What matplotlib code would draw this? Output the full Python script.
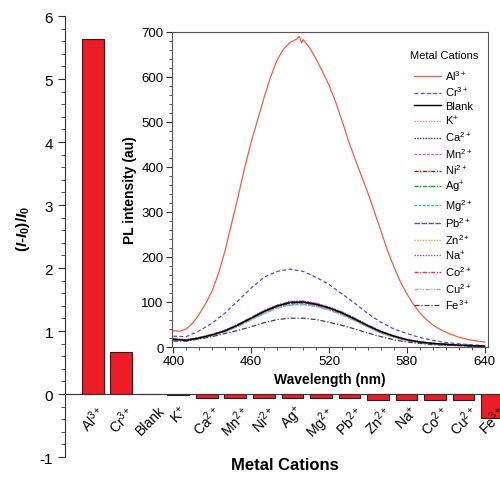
import matplotlib
matplotlib.use("Agg")
import matplotlib.pyplot as plt
from matplotlib.ticker import MultipleLocator

plt.rcParams["font.family"] = ["Liberation Sans", "DejaVu Sans"]
plt.rcParams["mathtext.fontset"] = "custom"
plt.rcParams["mathtext.rm"] = "Liberation Sans"
plt.rcParams["mathtext.it"] = "Liberation Sans:italic:bold"
plt.rcParams["mathtext.bf"] = "Liberation Sans:bold"
plt.rcParams["axes.unicode_minus"] = False

# bar chart data: relative change of PL intensity
cations = ["Al$^{3+}$", "Cr$^{3+}$", "Blank", "K$^{+}$", "Ca$^{2+}$", "Mn$^{2+}$", "Ni$^{2+}$",
           "Ag$^{+}$", "Mg$^{2+}$", "Pb$^{2+}$", "Zn$^{2+}$", "Na$^{+}$", "Co$^{2+}$", "Cu$^{2+}$", "Fe$^{3+}$"]
ratio = [5.63, 0.66, 0.0, -0.02, -0.06, -0.06, -0.06, -0.06, -0.06, -0.06, -0.09, -0.09, -0.09, -0.10, -0.38]

# inset PL spectra
wl_al = [400, 405, 410, 415, 420, 425, 430, 435, 440, 445, 450, 455, 460, 465, 470, 475, 480, 485, 490,
         493, 495, 497, 499, 500, 502, 505, 510, 515, 520, 525, 530, 535, 540, 545, 550, 555, 560, 565,
         570, 575, 580, 585, 590, 595, 600, 605, 610, 615, 620, 625, 630, 635, 640]
al = [36, 35, 40, 53, 73, 97, 125, 165, 215, 275, 335, 398, 455, 505, 555, 600, 638, 662, 677,
      681, 684, 690, 676, 683, 676, 665, 640, 612, 582, 545, 503, 458, 418, 380, 342, 300, 258, 215,
      178, 145, 118, 95, 76, 61, 49, 40, 33, 27, 22, 18, 15, 13, 11]

wl = [400, 410, 420, 430, 440, 450, 460, 470, 480, 490, 500, 510, 520, 530, 540, 550, 560, 570, 580,
      590, 600, 610, 620, 630, 640]
cr = [24, 23, 36, 53, 76, 103, 131, 155, 168, 173, 168, 155, 139, 118, 97, 74, 55, 40, 30, 21, 15, 10, 7, 5, 3]
blank = [17, 15, 20, 27, 36, 49, 64, 79, 91, 99, 100, 95, 87, 76, 62, 47, 34, 24, 16, 11, 8, 6, 4, 3, 2]
k = [18, 16, 21, 28, 38, 51, 66, 81, 93, 101, 102, 97, 88, 77, 63, 48, 35, 25, 17, 12, 8, 6, 4, 3, 2]
ca = [16, 15, 19, 26, 35, 48, 63, 78, 90, 98, 99, 94, 86, 75, 61, 46, 33, 23, 15, 10, 7, 5, 4, 3, 2]
mn = [17, 16, 20, 27, 37, 50, 65, 80, 92, 100, 101, 96, 87, 76, 62, 47, 34, 24, 16, 11, 8, 6, 4, 3, 2]
ni = [18, 16, 21, 28, 37, 50, 65, 80, 92, 100, 101, 96, 88, 77, 63, 48, 35, 24, 16, 11, 8, 6, 4, 3, 2]
ag = [17, 15, 20, 27, 36, 48, 63, 78, 90, 97, 98, 93, 85, 74, 60, 46, 33, 23, 15, 10, 7, 5, 4, 3, 2]
mg = [16, 14, 19, 25, 34, 46, 61, 75, 87, 94, 95, 91, 83, 72, 59, 45, 32, 22, 15, 10, 7, 5, 4, 3, 2]
pb = [17, 15, 20, 27, 36, 49, 64, 79, 91, 98, 99, 94, 86, 75, 61, 47, 34, 24, 16, 11, 8, 6, 4, 3, 2]
zn = [18, 16, 21, 28, 37, 50, 65, 80, 92, 99, 100, 95, 87, 76, 62, 47, 34, 24, 16, 11, 8, 6, 4, 3, 2]
na = [17, 16, 20, 27, 37, 50, 65, 81, 93, 101, 102, 97, 89, 78, 64, 49, 35, 25, 17, 12, 8, 6, 4, 3, 2]
co = [17, 15, 20, 27, 36, 49, 64, 79, 91, 98, 99, 94, 86, 75, 61, 46, 33, 23, 15, 10, 7, 5, 4, 3, 2]
cu = [16, 14, 19, 25, 34, 46, 60, 74, 86, 93, 94, 90, 82, 71, 58, 44, 31, 22, 15, 10, 7, 5, 4, 3, 2]
fe = [13, 13, 18, 23, 30, 37, 45, 54, 61, 64, 64, 61, 55, 48, 40, 31, 23, 16, 11, 8, 5, 4, 3, 2, 1]

fig = plt.figure(figsize=(5.0, 4.81), dpi=100)

# main bar chart
ax = fig.add_axes([0.13, 0.0478, 0.87, 0.9168])
x = list(range(len(cations)))
ax.bar(x, ratio, width=0.77, color="#ee1c24", edgecolor="#222222", linewidth=0.8)
ax.set_xlim(-0.98, 14.28)
ax.set_ylim(-1, 6)
ax.spines["top"].set_visible(False)
ax.spines["right"].set_visible(False)
ax.spines["bottom"].set_position(("data", 0))
ax.spines["left"].set_color("#333333")
ax.spines["bottom"].set_color("#333333")
ax.set_xticks(x)
ax.set_xticklabels(cations, rotation=45, ha="center", fontsize=10)
ax.tick_params(axis="x", length=0, pad=6)
ax.yaxis.set_minor_locator(MultipleLocator(0.2))
ax.tick_params(axis="y", which="major", length=5, labelsize=11, color="#333333")
ax.tick_params(axis="y", which="minor", length=3, color="#333333")
ax.set_xlabel("Metal Cations", fontsize=12, fontweight="bold")
ax.xaxis.set_label_coords(0.505, 0.0)
ax.set_ylabel(r"($\mathit{I}$-$\mathit{I}_\mathbf{0}$)/$\mathit{I}_\mathbf{0}$", fontsize=11, fontweight="bold")
ax.yaxis.set_label_coords(-0.075, 0.52)

# inset PL spectra
ins = fig.add_axes([0.344, 0.2765, 0.632, 0.655])
ins.plot(wl_al, al, color="#f05a4a", lw=0.9, label="Al$^{3+}$")
ins.plot(wl, cr, color="#4455cc", lw=0.9, ls=(0, (3, 2)), label="Cr$^{3+}$")
ins.plot(wl, blank, color="black", lw=1.0, label="Blank", zorder=5)
ins.plot(wl, k, color="#e080c8", lw=1.0, ls=(0, (1, 1)), label="K$^{+}$")
ins.plot(wl, ca, color="#3030a0", lw=1.0, ls=(0, (1, 1)), label="Ca$^{2+}$")
ins.plot(wl, mn, color="#b070c8", lw=1.0, ls=(0, (2, 1)), label="Mn$^{2+}$")
ins.plot(wl, ni, color="#a01818", lw=1.0, ls=(0, (3, 1, 1, 1)), label="Ni$^{2+}$")
ins.plot(wl, ag, color="#20a030", lw=1.0, ls=(0, (3, 1, 1, 1)), label="Ag$^{+}$")
ins.plot(wl, mg, color="#40b0b0", lw=1.0, ls=(0, (2, 1)), label="Mg$^{2+}$")
ins.plot(wl, pb, color="#5050c8", lw=1.0, ls=(0, (4, 1)), label="Pb$^{2+}$")
ins.plot(wl, zn, color="#f0a050", lw=1.0, ls=(0, (1, 1)), label="Zn$^{2+}$")
ins.plot(wl, na, color="#8060c8", lw=1.0, ls=(0, (1, 1)), label="Na$^{+}$")
ins.plot(wl, co, color="#f02878", lw=1.0, ls=(0, (3, 1, 1, 1)), label="Co$^{2+}$")
ins.plot(wl, cu, color="#a8a8a8", lw=1.0, ls=(0, (3, 1, 1, 1, 1, 1)), label="Cu$^{2+}$")
ins.plot(wl, fe, color="#404040", lw=0.9, ls=(0, (4, 1.5, 1, 1.5)), label="Fe$^{3+}$")
ins.set_xlim(399, 642.5)
ins.set_ylim(0, 700)
ins.set_xticks([400, 460, 520, 580, 640])
ins.xaxis.set_minor_locator(MultipleLocator(10))
ins.yaxis.set_minor_locator(MultipleLocator(20))
ins.tick_params(which="major", length=4, labelsize=9.5, color="#333333", pad=2)
ins.tick_params(which="minor", length=2, color="#333333")
for s in ins.spines.values():
    s.set_color("#555555")
ins.set_xlabel("Wavelength (nm)", fontsize=10, fontweight="bold", labelpad=3)
ins.set_ylabel("PL intensity (au)", fontsize=10, fontweight="bold", labelpad=3)
leg = ins.legend(title="Metal Cations", loc="upper right", bbox_to_anchor=(1.0, 0.975), frameon=False,
                 fontsize=8, title_fontsize=8, handlelength=2.4, handletextpad=0.4, labelspacing=0.24)
leg._legend_box.sep = 6  # a bit more room under the legend title

plt.savefig("out.png", dpi=100)
